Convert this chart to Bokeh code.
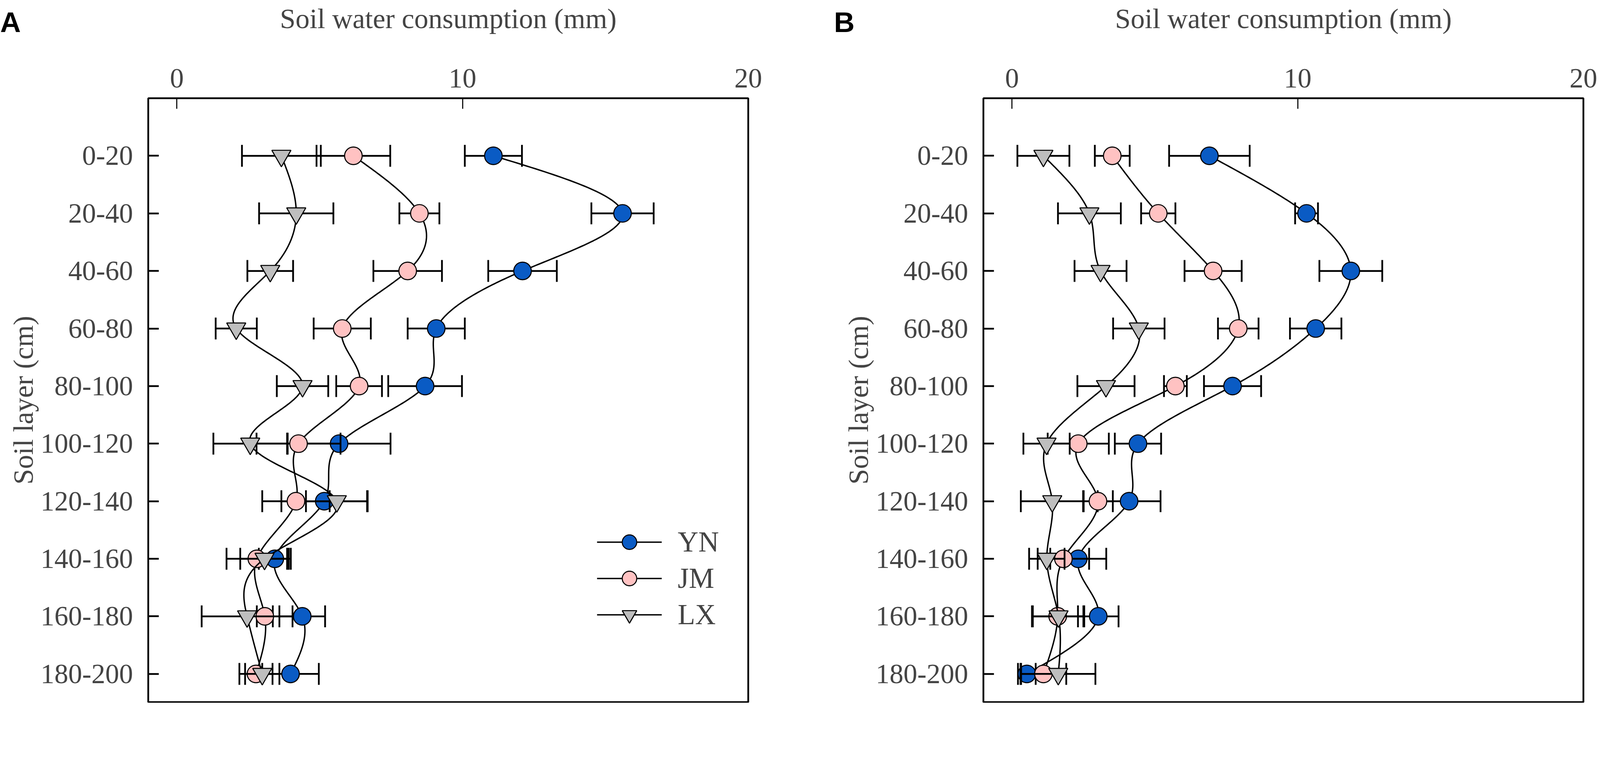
import numpy as np
from bokeh.plotting import figure
from bokeh.layouts import row
from bokeh.models import Range1d, FixedTicker, Legend, LegendItem, Label
from bokeh.embed import file_html
from bokeh.resources import INLINE

# ---------------- data ----------------
layers = ["0-20", "20-40", "40-60", "60-80", "80-100",
          "100-120", "120-140", "140-160", "160-180", "180-200"]
x_ticks = [0, 10, 20]
series_names = ["YN", "JM", "LX"]

# Panel A
a_yn = [11.08, 15.60, 12.10, 9.08, 8.69, 5.68, 5.16, 3.43, 4.39, 3.98]
a_yn_err = [1.00, 1.09, 1.20, 1.00, 1.29, 1.80, 1.50, 0.56, 0.80, 0.99]
a_jm = [6.18, 8.49, 8.08, 5.79, 6.38, 4.26, 4.17, 2.80, 3.08, 2.77]
a_jm_err = [1.29, 0.70, 1.20, 1.00, 0.80, 1.47, 1.18, 1.06, 0.28, 0.58]
a_lx = [3.66, 4.18, 3.27, 2.08, 4.40, 2.57, 5.60, 3.07, 2.46, 2.99]
a_lx_err = [1.38, 1.30, 0.80, 0.72, 0.90, 1.29, 1.08, 0.85, 1.59, 0.60]

# Panel B
b_yn = [6.91, 10.31, 11.86, 10.63, 7.72, 4.41, 4.10, 2.32, 3.02, 0.52]
b_yn_err = [1.41, 0.40, 1.10, 0.90, 1.00, 0.81, 1.10, 0.98, 0.71, 0.31]
b_jm = [3.51, 5.12, 7.04, 7.92, 5.72, 2.32, 3.01, 1.80, 1.60, 1.10]
b_jm_err = [0.61, 0.60, 1.00, 0.71, 0.40, 1.07, 0.52, 0.90, 0.90, 0.80]
b_lx = [1.10, 2.71, 3.10, 4.44, 3.29, 1.21, 1.41, 1.22, 1.63, 1.62]
b_lx_err = [0.91, 1.10, 0.91, 0.90, 1.00, 0.81, 1.10, 0.62, 0.90, 1.30]

# ---------------- styles ----------------
COLORS = {"YN": "#0A5BC4", "JM": "#FFC2C2", "LX": "#BEBEBE"}
MARKERS = {"YN": "circle", "JM": "circle", "LX": "inverted_triangle"}
SIZES = {"YN": 45, "JM": 45, "LX": 49}
SERIF = "Liberation Serif"
FRAME_W = 1536
FRAME_H = 1546
TOP = 251
BOTTOM = 2


def natural_spline(ys, xs, n=40):
    """Smooth curve x(y) through the data points (natural cubic spline)."""
    y = np.asarray(ys, float)
    x = np.asarray(xs, float)
    m = len(y)
    h = np.diff(y)
    A = np.zeros((m, m))
    r = np.zeros(m)
    A[0, 0] = 1.0
    A[-1, -1] = 1.0
    for i in range(1, m - 1):
        A[i, i - 1] = h[i - 1]
        A[i, i] = 2 * (h[i - 1] + h[i])
        A[i, i + 1] = h[i]
        r[i] = 3 * ((x[i + 1] - x[i]) / h[i] - (x[i] - x[i - 1]) / h[i - 1])
    c = np.linalg.solve(A, r)
    oy, ox = [], []
    for i in range(m - 1):
        b = (x[i + 1] - x[i]) / h[i] - h[i] * (2 * c[i] + c[i + 1]) / 3
        d = (c[i + 1] - c[i]) / (3 * h[i])
        t = np.linspace(0, h[i], n, endpoint=(i == m - 2))
        oy.extend(y[i] + t)
        ox.extend(x[i] + b * t + c[i] * t ** 2 + d * t ** 3)
    return ox, oy


def make_panel(letter, letter_x, data, width, left_border, legend=False):
    right_border = width - left_border - FRAME_W
    p = figure(width=width, height=TOP + FRAME_H + BOTTOM,
               x_range=Range1d(-1.0, 20.0), y_range=Range1d(9.49, -1.0),
               x_axis_location="above", output_backend="svg",
               toolbar_location=None,
               min_border_left=left_border, min_border_right=right_border,
               min_border_top=TOP, min_border_bottom=BOTTOM)
    p.grid.visible = False
    p.outline_line_color = "black"
    p.outline_line_width = 4.5
    p.background_fill_color = "white"
    p.border_fill_color = "white"

    xa = p.xaxis[0]
    xa.ticker = FixedTicker(ticks=x_ticks, minor_ticks=[])
    xa.axis_line_color = None
    xa.major_tick_in = 27
    xa.major_tick_out = 0
    xa.major_tick_line_width = 2.7
    xa.major_label_text_font = SERIF
    xa.major_label_text_font_size = "71px"
    xa.major_label_standoff = 28
    xa.axis_label = "Soil water consumption (mm)"
    xa.axis_label_text_font = SERIF
    xa.axis_label_text_font_size = "72px"
    xa.axis_label_text_font_style = "normal"
    xa.axis_label_standoff = 86

    ya = p.yaxis[0]
    ya.ticker = FixedTicker(ticks=list(range(len(layers))), minor_ticks=[])
    ya.major_label_overrides = {i: lab for i, lab in enumerate(layers)}
    ya.axis_line_color = None
    ya.major_tick_in = 27
    ya.major_tick_out = 0
    ya.major_tick_line_width = 4.5
    ya.major_label_text_font = SERIF
    ya.major_label_text_font_size = "71px"
    ya.major_label_standoff = 39
    ya.axis_label = "Soil layer (cm)"
    ya.axis_label_text_font = SERIF
    ya.axis_label_text_font_size = "72px"
    ya.axis_label_text_font_style = "normal"
    ya.axis_label_standoff = 1

    depth = list(range(len(layers)))
    items = []
    for name in series_names:
        vals, errs = data[name]
        lo = [v - e for v, e in zip(vals, errs)]
        hi = [v + e for v, e in zip(vals, errs)]
        sx, sy = natural_spline(depth, vals)
        lr = p.line(sx, sy, line_color="black", line_width=3.6)
        p.segment(x0=lo, y0=depth, x1=hi, y1=depth, line_color="black", line_width=4.5)
        p.segment(x0=lo, y0=[d - 0.19 for d in depth], x1=lo, y1=[d + 0.19 for d in depth],
                  line_color="black", line_width=4.5)
        p.segment(x0=hi, y0=[d - 0.19 for d in depth], x1=hi, y1=[d + 0.19 for d in depth],
                  line_color="black", line_width=4.5)
        mr = p.scatter(vals, depth, marker=MARKERS[name], size=SIZES[name],
                       fill_color=COLORS[name], line_color="black", line_width=2.7)
        items.append(LegendItem(label=name, renderers=[lr, mr]))

    if legend:
        leg = Legend(items=items, location=(1149, 177), orientation="vertical",
                     glyph_width=166, glyph_height=93, spacing=0,
                     label_standoff=41, padding=0, margin=0,
                     border_line_color=None, background_fill_alpha=0,
                     label_text_font=SERIF, label_text_font_size="73px",
                     label_text_baseline="middle")
        p.add_layout(leg, "center")

    # panel letter (side-panel annotation so it is not clipped to the frame)
    lab = Label(x=letter_x, y=-2.325, text=letter, text_font="Liberation Sans",
                text_font_style="bold", text_font_size="73px", text_color="black",
                text_baseline="alphabetic", text_align="left")
    p.add_layout(lab, "right")
    return p


W_A = 2120
W_B = 2000
pa = make_panel("A", -6.18, {"YN": (a_yn, a_yn_err), "JM": (a_jm, a_jm_err), "LX": (a_lx, a_lx_err)},
                width=W_A, left_border=379, legend=True)
pb = make_panel("B", -6.23, {"YN": (b_yn, b_yn_err), "JM": (b_jm, b_jm_err), "LX": (b_lx, b_lx_err)},
                width=W_B, left_border=2517 - W_A)

layout = row(pa, pb)
open("out.html", "w").write(file_html(layout, INLINE))
